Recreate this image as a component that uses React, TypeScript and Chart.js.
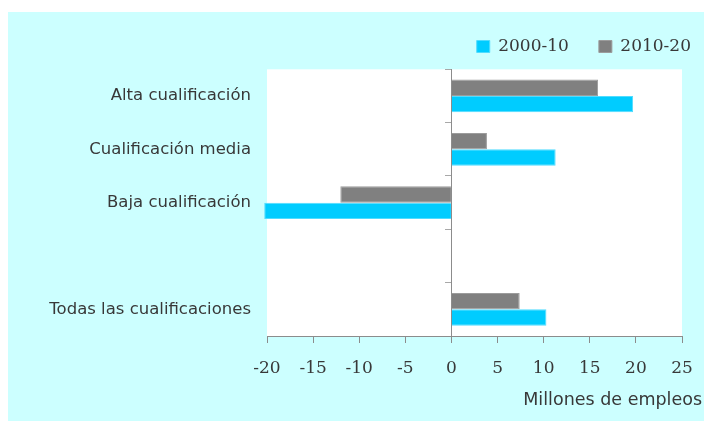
import React, { useEffect, useRef } from 'react';
import { Chart, registerables } from 'chart.js';

Chart.register(...registerables);

// ---- data ----
const categories = ['Alta cualificación', 'Cualificación media', 'Baja cualificación', '', 'Todas las cualificaciones'];
const seriesNames = ['2000-10', '2010-20'];
const series2000_10 = [19.7, 11.3, -20.3, null, 10.3];
const series2010_20 = [15.9, 3.85, -12.05, null, 7.4];
const xMin = -20;
const xMax = 25;
const xStep = 5;
const axisTitle = 'Millones de empleos';

// ---- style ----
const W = 696;
const H = 409;
const TEXT = '#383838';
const AXIS = '#8c8c8c';
const sansFont = { family: 'DejaVu Sans', size: 16.5, weight: 'normal' as const };
const serifFont = { family: 'DejaVu Serif', size: 17, weight: 'normal' as const };

const plotBackground = {
  id: 'plotBackground',
  beforeDraw(chart: any) {
    const { ctx, chartArea: a } = chart;
    ctx.save();
    ctx.fillStyle = '#ffffff';
    ctx.fillRect(a.left, a.top, a.right - a.left, a.bottom - a.top);
    ctx.restore();
  },
};

// place the legend block (keeps library layout for everything else)
const legendPlacement = {
  id: 'legendPlacement',
  afterLayout(chart: any) {
    const L = chart.legend;
    if (!L) return;
    const dx = 713 - L.right;
    const dy = -4 - L.top;
    L.left += dx;
    L.right += dx;
    L.top += dy;
    L.bottom += dy;
  },
};

export default function App() {
  const ref = useRef<HTMLCanvasElement | null>(null);

  useEffect(() => {
    if (!ref.current) return;
    const chart = new Chart(ref.current, {
      type: 'bar',
      data: {
        labels: categories,
        datasets: [
          {
            label: seriesNames[1],
            data: series2010_20,
            backgroundColor: '#808080',
            borderColor: '#9c9c9c',
            borderWidth: 1,
            categoryPercentage: 0.615,
            barPercentage: 1,
            clip: false,
            xAxisID: 'x',
            yAxisID: 'y',
          },
          {
            label: seriesNames[0],
            data: series2000_10,
            backgroundColor: '#00ccff',
            borderColor: '#50dcff',
            borderWidth: 1,
            categoryPercentage: 0.615,
            barPercentage: 1,
            clip: false,
            xAxisID: 'x',
            yAxisID: 'y',
          },
        ],
      },
      options: {
        indexAxis: 'y',
        responsive: false,
        animation: false,
        layout: { padding: { top: 0.3, right: 2, bottom: 0, left: 0 } },
        scales: {
          x: {
            type: 'linear',
            position: 'bottom',
            min: xMin,
            max: xMax,
            ticks: { stepSize: xStep, font: { ...serifFont, lineHeight: 2.1 }, color: TEXT, padding: 8 },
            grid: { drawOnChartArea: false, drawTicks: true, tickLength: 7, color: AXIS },
            border: { display: true, color: AXIS },
            afterFit: (s: any) => {
              s.height = 43.4;
            },
          },
          y: {
            type: 'category',
            position: 'left',
            grid: { display: false, drawTicks: false },
            border: { display: false },
            ticks: { font: sansFont, color: TEXT, padding: 16 },
            afterFit: (s: any) => {
              s.width = 259;
            },
          },
          yZero: {
            type: 'category',
            axis: 'y',
            position: { x: 0 },
            offset: true,
            grid: { offset: true, drawOnChartArea: false, drawTicks: true, tickLength: 6, color: '#a8a8a8' },
            border: { display: true, color: AXIS },
            ticks: { display: false },
            afterFit: (s: any) => {
              s.width = 0;
            },
          },
          yPad: {
            type: 'linear',
            axis: 'y',
            position: 'right',
            grid: { display: false, drawTicks: false },
            border: { display: false },
            ticks: { display: false },
            afterFit: (s: any) => {
              s.width = 20;
            },
          },
        } as any,
        plugins: {
          legend: {
            display: true,
            position: 'top',
            align: 'end',
            reverse: true,
            labels: {
              boxWidth: 13,
              boxHeight: 12,
              padding: 30,
              font: serifFont,
              color: TEXT,
            },
          },
          title: {
            display: true,
            text: axisTitle,
            position: 'bottom',
            align: 'end',
            font: { family: 'DejaVu Sans', size: 17.5, weight: 'normal' },
            color: TEXT,
            padding: { top: 10.1, bottom: 10.5 },
          },
          tooltip: { enabled: false },
        },
      },
      plugins: [plotBackground, legendPlacement],
    });
    return () => chart.destroy();
  }, []);

  return (
    <div
      style={{
        position: 'absolute',
        left: 8,
        top: 12,
        width: W,
        height: H,
        background: '#ccffff',
      }}
    >
      <canvas ref={ref} width={W} height={H} style={{ display: 'block' }} />
    </div>
  );
}
